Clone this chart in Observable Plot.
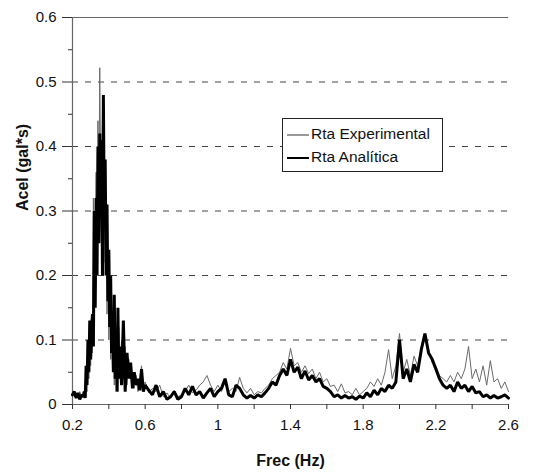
<!DOCTYPE html>
<html>
<head>
<meta charset="utf-8">
<script src="https://cdn.jsdelivr.net/npm/d3@7"></script>
<script src="https://cdn.jsdelivr.net/npm/@observablehq/plot@0.6"></script>
<style>
  html, body { margin: 0; padding: 0; background: #fff; }
  #wrap { position: relative; width: 551px; height: 474px; overflow: hidden; }
  #legend { position: absolute; left: 282px; top: 118px; width: 159px; height: 52px;
    border: 1px solid #222; background: #fff; font-family: Arial, "Liberation Sans", sans-serif;
    font-size: 15.5px; color: #111; }
  #legend .row { position: absolute; left: 4px; height: 20px; line-height: 20px; white-space: nowrap; }
  #legend svg { vertical-align: middle; margin-right: 2px; }
</style>
</head>
<body>
<div id="wrap"></div>
<script>
// Frequency (Hz)
const freq = [
  0.20, 0.21, 0.22, 0.23, 0.24, 0.25,
  0.260, 0.265, 0.270, 0.275, 0.280, 0.285, 0.290, 0.295, 0.300, 0.305,
  0.310, 0.315, 0.320, 0.325, 0.330, 0.335, 0.340, 0.345, 0.350, 0.355,
  0.360, 0.365, 0.370, 0.375, 0.380, 0.385, 0.390, 0.395, 0.400, 0.405,
  0.410, 0.415, 0.420, 0.425, 0.430, 0.435, 0.440, 0.445, 0.450, 0.455,
  0.46, 0.47, 0.48, 0.49, 0.50, 0.51, 0.52, 0.53, 0.54, 0.55, 0.56, 0.57, 0.58, 0.59, 0.60,
  0.62, 0.64, 0.66, 0.68, 0.70, 0.72, 0.74, 0.76, 0.78, 0.80,
  0.82, 0.84, 0.86, 0.88, 0.90, 0.92, 0.94, 0.96, 0.98, 1.00,
  1.02, 1.04, 1.06, 1.08, 1.10, 1.12, 1.14, 1.16, 1.18, 1.20,
  1.22, 1.24, 1.26, 1.28, 1.30, 1.32, 1.34, 1.36, 1.38, 1.40,
  1.42, 1.44, 1.46, 1.48, 1.50, 1.52, 1.54, 1.56, 1.58, 1.60,
  1.62, 1.64, 1.66, 1.68, 1.70, 1.72, 1.74, 1.76, 1.78, 1.80,
  1.82, 1.84, 1.86, 1.88, 1.90, 1.92, 1.94, 1.96, 1.98, 2.00,
  2.02, 2.04, 2.06, 2.08, 2.10, 2.12, 2.14, 2.16, 2.18, 2.20,
  2.22, 2.24, 2.26, 2.28, 2.30, 2.32, 2.34, 2.36, 2.38, 2.40,
  2.42, 2.44, 2.46, 2.48, 2.50, 2.52, 2.54, 2.56, 2.58, 2.60
];

// Rta Analítica (thick black)
const analitica = [
  0.015, 0.020, 0.010, 0.018, 0.008, 0.015,
  0.012, 0.020, 0.010, 0.060, 0.030, 0.100, 0.050, 0.130, 0.070, 0.120,
  0.140, 0.090, 0.300, 0.150, 0.320, 0.200, 0.400, 0.250, 0.420, 0.300,
  0.410, 0.200, 0.480, 0.280, 0.380, 0.200, 0.310, 0.160, 0.240, 0.120,
  0.200, 0.080, 0.140, 0.050, 0.170, 0.040, 0.100, 0.020, 0.150, 0.040,
  0.090, 0.030, 0.130, 0.020, 0.080, 0.040, 0.065, 0.025, 0.050, 0.030, 0.040, 0.022, 0.055, 0.020, 0.030,
  0.022, 0.015, 0.030, 0.012, 0.020, 0.008, 0.012, 0.020, 0.008, 0.012,
  0.025, 0.015, 0.028, 0.015, 0.020, 0.010, 0.018, 0.025, 0.012, 0.020,
  0.025, 0.040, 0.015, 0.012, 0.030, 0.025, 0.015, 0.010, 0.014, 0.010,
  0.015, 0.012, 0.018, 0.025, 0.035, 0.030, 0.045, 0.055, 0.045, 0.070,
  0.050, 0.058, 0.040, 0.052, 0.038, 0.045, 0.035, 0.040, 0.028, 0.025,
  0.020, 0.012, 0.015, 0.010, 0.014, 0.010, 0.012, 0.008, 0.013, 0.010,
  0.018, 0.012, 0.022, 0.015, 0.025, 0.020, 0.030, 0.025, 0.035, 0.100,
  0.040, 0.055, 0.035, 0.062, 0.050, 0.085, 0.110, 0.080, 0.070, 0.055,
  0.040, 0.030, 0.025, 0.030, 0.020, 0.035, 0.025, 0.030, 0.020, 0.028,
  0.018, 0.020, 0.012, 0.015, 0.010, 0.014, 0.010, 0.012, 0.015, 0.010
];

// Rta Experimental (thin grey)
const experimental = [
  0.020, 0.012, 0.018, 0.010, 0.020, 0.012,
  0.020, 0.010, 0.030, 0.040, 0.020, 0.080, 0.040, 0.100, 0.060, 0.120,
  0.080, 0.320, 0.180, 0.270, 0.360, 0.220, 0.440, 0.300, 0.522, 0.350,
  0.260, 0.440, 0.300, 0.360, 0.220, 0.300, 0.140, 0.220, 0.100, 0.200,
  0.070, 0.120, 0.060, 0.140, 0.030, 0.120, 0.050, 0.080, 0.020, 0.120,
  0.050, 0.100, 0.040, 0.090, 0.030, 0.070, 0.040, 0.050, 0.025, 0.045, 0.020, 0.040, 0.060, 0.025, 0.035,
  0.018, 0.025, 0.020, 0.030, 0.012, 0.018, 0.010, 0.022, 0.012, 0.015,
  0.020, 0.030, 0.018, 0.022, 0.030, 0.035, 0.045, 0.030, 0.020, 0.030,
  0.020, 0.035, 0.020, 0.025, 0.020, 0.042, 0.025, 0.018, 0.025, 0.015,
  0.020, 0.018, 0.025, 0.030, 0.040, 0.045, 0.050, 0.065, 0.055, 0.087,
  0.060, 0.065, 0.050, 0.060, 0.048, 0.055, 0.040, 0.050, 0.035, 0.040,
  0.028, 0.030, 0.020, 0.032, 0.018, 0.020, 0.015, 0.025, 0.015, 0.020,
  0.025, 0.035, 0.028, 0.040, 0.030, 0.050, 0.085, 0.040, 0.060, 0.110,
  0.050, 0.070, 0.045, 0.075, 0.060, 0.090, 0.105, 0.085, 0.065, 0.060,
  0.045, 0.040, 0.035, 0.045, 0.035, 0.050, 0.040, 0.055, 0.090, 0.040,
  0.055, 0.035, 0.060, 0.030, 0.068, 0.035, 0.040, 0.025, 0.035, 0.020
];

const yMajor = [0, 0.1, 0.2, 0.3, 0.4, 0.5, 0.6];
const yMinor = [0.05, 0.15, 0.25, 0.35, 0.45, 0.55];
const yGrid = [0.1, 0.2, 0.3, 0.4, 0.5];
const xMajor = [0.2, 0.6, 1.0, 1.4, 1.8, 2.2, 2.6];
const xMinor = [0.4, 0.8, 1.2, 1.6, 2.0, 2.4];

const rowsA = freq.map((f, i) => ({f, v: analitica[i]}));
const rowsE = freq.map((f, i) => ({f, v: experimental[i]}));

const fmt = d => String(+d.toFixed(2));

const chart = Plot.plot({
  width: 551,
  height: 474,
  marginTop: 17,
  marginBottom: 70,
  marginLeft: 72,
  marginRight: 43,
  x: {domain: [0.2, 2.6], label: null},
  y: {domain: [0, 0.6], label: null},
  style: {fontFamily: "Arial, 'Liberation Sans', sans-serif", fontSize: "14px", color: "#111", background: "#fff"},
  marks: [
    Plot.ruleY(yGrid, {stroke: "#444", strokeDasharray: "6,7", strokeWidth: 1}),
    Plot.ruleY([0.6], {stroke: "#666", strokeWidth: 1.2}),
    Plot.ruleX([0.2], {stroke: "#666", strokeWidth: 1.2}),
    Plot.ruleY([0], {stroke: "#666", strokeWidth: 1.2}),
    Plot.lineY(rowsE, {x: "f", y: "v", stroke: "#6a6a6a", strokeWidth: 1}),
    Plot.lineY(rowsA, {x: "f", y: "v", stroke: "#000", strokeWidth: 3, strokeLinejoin: "miter"}),
    Plot.axisY({ticks: yMajor, tickSize: 10, tickPadding: 6, fontSize: 15, tickFormat: fmt, label: null, stroke: "#333"}),
    Plot.axisY({ticks: yMinor, tickSize: 4, tickFormat: () => "", label: null, stroke: "#333"}),
    Plot.axisX({ticks: xMajor, tickSize: 5, tickPadding: 10, fontSize: 15, tickFormat: fmt, label: null, stroke: "#333"}),
    Plot.axisX({ticks: xMinor, tickSize: 5, tickFormat: () => "", label: null, stroke: "#333"}),
    Plot.text(["Frec (Hz)"], {text: d => d, frameAnchor: "bottom", dy: 61, fontWeight: "bold", fontSize: 16}),
    Plot.text(["Acel (gal*s)"], {text: d => d, frameAnchor: "left", dx: -50, rotate: -90, fontWeight: "bold", fontSize: 16})
  ]
});

const wrap = document.getElementById("wrap");
wrap.appendChild(chart);

const legend = document.createElement("div");
legend.id = "legend";
legend.innerHTML =
  '<div class="row" style="top:5px"><svg width="22" height="6"><line x1="0" y1="3" x2="22" y2="3" stroke="#555" stroke-width="1.2"/></svg>Rta Experimental</div>' +
  '<div class="row" style="top:28px"><svg width="22" height="6"><line x1="0" y1="3" x2="22" y2="3" stroke="#000" stroke-width="2"/></svg>Rta Analítica</div>';
wrap.appendChild(legend);
</script>
</body>
</html>
